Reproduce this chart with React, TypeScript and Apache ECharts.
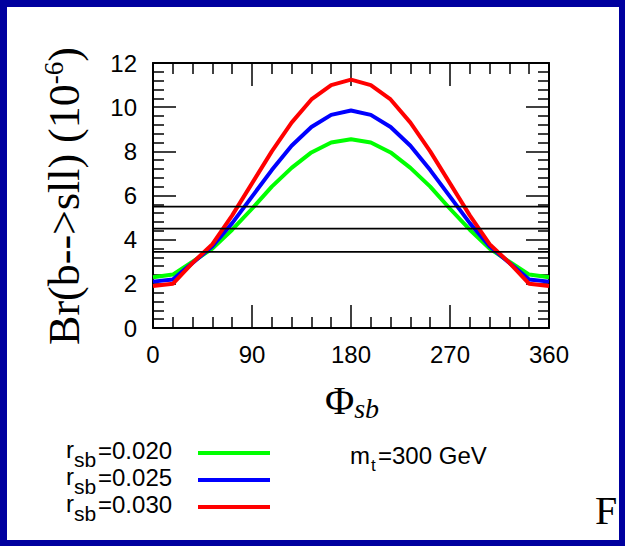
import React, { useEffect, useRef } from "react";
import * as echarts from "echarts";

const phi = [0, 18, 36, 54, 72, 90, 108, 126, 144, 162, 180, 198, 216, 234, 252, 270, 288, 306, 324, 342, 360];
const green020 = [2.3, 2.42, 3.0, 3.6, 4.45, 5.4, 6.4, 7.25, 7.95, 8.4, 8.55, 8.4, 7.95, 7.25, 6.4, 5.4, 4.45, 3.6, 3.0, 2.42, 2.3];
const blue025 = [2.1, 2.2, 2.95, 3.7, 4.75, 5.95, 7.15, 8.25, 9.1, 9.65, 9.85, 9.65, 9.1, 8.25, 7.15, 5.95, 4.75, 3.7, 2.95, 2.2, 2.1];
const red030 = [1.9, 2.0, 2.95, 3.8, 5.1, 6.55, 8.0, 9.3, 10.35, 11.0, 11.25, 11.0, 10.35, 9.3, 8.0, 6.55, 5.1, 3.8, 2.95, 2.0, 1.9];
const hLines = [5.5, 4.5, 3.45];
const legendValues = ["0.020", "0.025", "0.030"];
const legendColors = ["#00ff00", "#0000ff", "#ff0000"];

const SANS = "Liberation Sans, Arial, sans-serif";
const SERIF = "Liberation Serif, Times New Roman, serif";

export default function App() {
  const ref = useRef<HTMLDivElement>(null);
  useEffect(() => {
    if (!ref.current) return;
    const chart = echarts.init(ref.current, null, { renderer: "svg" });
    const tickStyle = { color: "#000", width: 1.5 };
    const mkX = (pos: string, labels: boolean) => ({
      type: "value",
      min: 0,
      max: 360,
      interval: 90,
      position: pos,
      axisLine: { show: true, onZero: false, lineStyle: { color: "#000", width: 2 } },
      axisTick: { show: true, inside: true, length: 23, lineStyle: tickStyle },
      minorTick: { show: true, splitNumber: 5, length: 11, lineStyle: tickStyle },
      splitLine: { show: false },
      axisLabel: { show: labels, fontSize: 24, fontFamily: SANS, color: "#000", margin: 14 },
    });
    const mkY = (pos: string, labels: boolean) => ({
      type: "value",
      min: 0,
      max: 12,
      interval: 2,
      position: pos,
      axisLine: { show: true, onZero: false, lineStyle: { color: "#000", width: 2 } },
      axisTick: { show: true, inside: true, length: 23, lineStyle: tickStyle },
      minorTick: { show: true, splitNumber: 5, length: 11, lineStyle: tickStyle },
      splitLine: { show: false },
      axisLabel: { show: labels, fontSize: 24, fontFamily: SANS, color: "#000", margin: 16 },
    });
    const curves = [green020, blue025, red030];
    const series: any[] = curves.map((vals, i) => ({
      type: "line",
      xAxisIndex: 0,
      yAxisIndex: 0,
      data: phi.map((p, j) => [p, vals[j]]),
      showSymbol: false,
      lineStyle: { color: legendColors[i], width: 4 },
      z: 2,
    }));
    hLines.forEach((h) => {
      series.push({
        type: "line",
        xAxisIndex: 0,
        yAxisIndex: 0,
        data: [[0, h], [360, h]],
        showSymbol: false,
        lineStyle: { color: "#000", width: 1.7 },
        z: 3,
      });
    });

    const graphic: any[] = [];
    // y-axis title
    graphic.push({
      type: "text",
      x: 64,
      y: 196,
      rotation: Math.PI / 2,
      style: {
        text: "{a|Br(b-->sll) (10}{s|-6}{a|)}",
        align: "center",
        verticalAlign: "middle",
        rich: {
          a: { fontSize: 44, fontFamily: SERIF, fill: "#000", lineHeight: 48 },
          s: { fontSize: 27, fontFamily: SERIF, fill: "#000", verticalAlign: "top", lineHeight: 48 },
        },
      },
    });
    // x-axis title
    graphic.push({
      type: "text",
      x: 352,
      y: 400,
      style: {
        text: "{p|Φ}{s|sb}",
        align: "center",
        verticalAlign: "middle",
        rich: {
          p: { fontSize: 40, fontFamily: SERIF, fill: "#000", lineHeight: 44 },
          s: { fontSize: 28, fontFamily: SERIF, fontStyle: "italic", fill: "#000", verticalAlign: "bottom", lineHeight: 44 },
        },
      },
    });
    // legend
    const rowY = [452, 479, 506];
    legendValues.forEach((v, i) => {
      graphic.push({
        type: "text",
        x: 66,
        y: rowY[i] - 3,
        style: { text: "r", fontSize: 24, fontFamily: SANS, fill: "#000", verticalAlign: "middle" },
      });
      graphic.push({
        type: "text",
        x: 74,
        y: rowY[i] + 7,
        style: { text: "sb", fontSize: 21, fontFamily: SANS, fill: "#000", verticalAlign: "middle" },
      });
      graphic.push({
        type: "text",
        x: 98,
        y: rowY[i] - 2,
        style: { text: "=" + v, fontSize: 24, fontFamily: SANS, fill: "#000", verticalAlign: "middle" },
      });
      graphic.push({
        type: "line",
        shape: { x1: 198, y1: rowY[i] + 1, x2: 270, y2: rowY[i] + 1 },
        style: { stroke: legendColors[i], lineWidth: 4 },
      });
    });
    graphic.push({
      type: "text",
      x: 350,
      y: 455,
      style: { text: "m", fontSize: 24, fontFamily: SANS, fill: "#000", verticalAlign: "middle" },
    });
    graphic.push({
      type: "text",
      x: 371,
      y: 465,
      style: { text: "t", fontSize: 17, fontFamily: SANS, fill: "#000", verticalAlign: "middle" },
    });
    graphic.push({
      type: "text",
      x: 378,
      y: 455,
      style: { text: "=300 GeV", fontSize: 24, fontFamily: SANS, fill: "#000", verticalAlign: "middle" },
    });
    graphic.push({
      type: "text",
      x: 595,
      y: 510,
      style: { text: "F", fontSize: 40, fontFamily: SERIF, fill: "#000", verticalAlign: "middle" },
      z: 1,
    });
    // blue frame
    const frame = "#00009f";
    [
      [0, 0, 625, 7],
      [0, 540, 625, 6],
      [0, 0, 7, 546],
      [619, 0, 6, 546],
    ].forEach(([x, y, w, h]) => {
      graphic.push({ type: "rect", shape: { x, y, width: w, height: h }, style: { fill: frame }, z: 100 });
    });

    chart.setOption({
      animation: false,
      backgroundColor: "#fff",
      grid: { left: 153, top: 63, width: 396, height: 265, containLabel: false },
      xAxis: [mkX("bottom", true), mkX("top", false)],
      yAxis: [mkY("left", true), mkY("right", false)],
      series,
      graphic,
    });
    return () => chart.dispose();
  }, []);
  return <div ref={ref} style={{ position: "absolute", left: 0, top: 0, width: 625, height: 546 }} />;
}
